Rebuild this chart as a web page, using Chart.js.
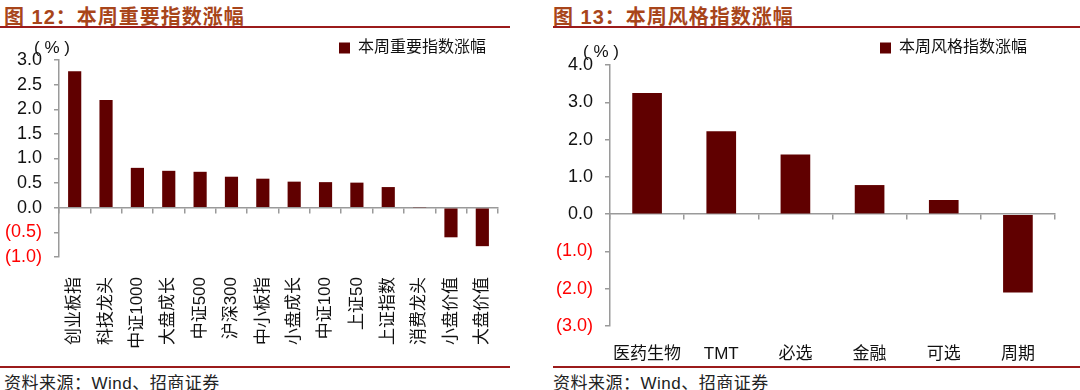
<!DOCTYPE html>
<html>
<head>
<meta charset="utf-8">
<script src="https://cdn.jsdelivr.net/npm/chart.js@4.4.0/dist/chart.umd.min.js"></script>
<style>
  body { margin: 0; width: 1080px; height: 390px; background: #fff; position: relative; overflow: hidden;
         font-family: "Liberation Sans", "Noto Sans CJK SC", sans-serif; }
  .title { position: absolute; top: 1px; font-size: 20px; font-weight: bold; color: #a8451a; white-space: nowrap; letter-spacing: 1px; }
  .rule { position: absolute; height: 2px; background: #9b1b1b; }
  .src { position: absolute; top: 369px; font-size: 17px; color: #222; white-space: nowrap; letter-spacing: 0.5px; }
  .box { position: absolute; top: 30px; width: 540px; height: 335px; }
</style>
</head>
<body>
<div class="title" style="left:4px">图 12：本周重要指数涨幅</div>
<div class="rule" style="left:0; width:510px; top:26px"></div>
<div class="title" style="left:553px">图 13：本周风格指数涨幅</div>
<div class="rule" style="left:553px; width:527px; top:26px"></div>

<div class="box" style="left:0"><canvas id="left"></canvas></div>
<div class="box" style="left:540px"><canvas id="right"></canvas></div>

<div class="rule" style="left:0; width:510px; top:366px"></div>
<div class="rule" style="left:553px; width:527px; top:366px"></div>
<div class="src" style="left:4px">资料来源：Wind、招商证券</div>
<div class="src" style="left:553px">资料来源：Wind、招商证券</div>

<script>
const indexNames = ["创业板指", "科技龙头", "中证1000", "大盘成长", "中证500", "沪深300", "中小板指",
  "小盘成长", "中证100", "上证50", "上证指数", "消费龙头", "小盘价值", "大盘价值"]
const indexChange = [2.77, 2.19, 0.81, 0.75, 0.73, 0.63, 0.59, 0.53, 0.52, 0.51, 0.42, 0.01, -0.60, -0.78]

const styleNames = ["医药生物", "TMT", "必选", "金融", "可选", "周期"]
const styleChange = [3.25, 2.22, 1.60, 0.78, 0.38, -2.10]

const barColor = "#600000"
const axisColor = "#9a9a9a"
const font = "'Liberation Sans', 'Noto Sans CJK SC', sans-serif"

function fmtTick(v) {
  return v < 0 ? "(" + Math.abs(v).toFixed(1) + ")" : v.toFixed(1)
}

// "(%)" unit label above the value axis
const unitLabel = {
  id: "unitLabel",
  afterDraw(chart, args, opts) {
    const { ctx, chartArea } = chart
    ctx.save()
    ctx.font = "17px " + font
    ctx.fillStyle = "#111"
    ctx.textAlign = "center"
    ctx.textBaseline = "middle"
    ctx.fillText("( % )", chartArea.left + opts.dx, chartArea.top + opts.dy)
    ctx.restore()
  }
}

// fixes the legend height, and nudges it sideways, so it sits where the reference has it
const legendHeight = {
  id: "legendHeight",
  beforeInit(chart, args, opts) {
    const fit = chart.legend.fit
    chart.legend.fit = function () {
      fit.bind(chart.legend)()
      this.height = opts.h
    }
  },
  afterLayout(chart, args, opts) {
    chart.legend.right -= opts.shift
  }
}

function makeChart(id, cfg) {
  return new Chart(document.getElementById(id), {
    type: "bar",
    data: {
      labels: cfg.labels,
      datasets: [{
        label: cfg.legend,
        data: cfg.values,
        backgroundColor: barColor,
        borderWidth: 0,
        barPercentage: cfg.barPct,
        categoryPercentage: 1,
        xAxisID: "x"
      }]
    },
    options: {
      responsive: true,
      maintainAspectRatio: false,
      animation: false,
      layout: { padding: { left: 0, right: cfg.padRight, top: 0, bottom: 0 } },
      scales: {
        x: {
          type: "category",
          position: { y: 0 },
          offset: true,
          border: { color: axisColor, width: 1.5 },
          grid: { display: true, drawOnChartArea: false, offset: true, tickLength: 5, color: axisColor, lineWidth: 1.5 },
          ticks: { display: false }
        },
        x2: {
          type: "category",
          position: "bottom",
          offset: true,
          border: { display: false },
          grid: { display: false },
          ticks: {
            color: "#111",
            font: { family: font, size: 17 },
            padding: cfg.xPad,
            minRotation: cfg.rot,
            maxRotation: cfg.rot,
            autoSkip: false
          },
          afterFit(scale) { scale.height = cfg.xHeight }
        },
        y: {
          min: cfg.min,
          max: cfg.max,
          border: { color: axisColor, width: 1.5 },
          grid: { display: true, drawOnChartArea: false, tickLength: 5, color: axisColor, lineWidth: 1.5 },
          ticks: {
            stepSize: cfg.step,
            padding: 12,
            font: { family: font, size: 18 },
            color: ctx => ctx.tick.value < 0 ? "#ff0000" : "#111",
            callback: v => fmtTick(v)
          },
          afterFit(scale) { scale.width = cfg.yWidth }
        }
      },
      plugins: {
        legend: {
          display: true,
          position: "top",
          align: "end",
          labels: {
            boxWidth: 11,
            boxHeight: 11,
            padding: 10,
            color: "#111",
            font: { family: font, size: 16 }
          }
        },
        legendHeight: { h: cfg.legendH, shift: cfg.legendShift },
        unitLabel: { dx: cfg.unitDx, dy: cfg.unitDy },
        tooltip: { enabled: false }
      }
    },
    plugins: [legendHeight, unitLabel]
  })
}

makeChart("left", {
  labels: indexNames,
  values: indexChange,
  legend: "本周重要指数涨幅",
  min: -1, max: 3, step: 0.5,
  barPct: 0.42,
  padRight: 42,
  yWidth: 59,
  legendH: 30,
  legendShift: 2,
  xHeight: 108,
  xPad: 12,
  rot: 90,
  unitDx: -7, unitDy: -12
})

makeChart("right", {
  labels: styleNames,
  values: styleChange,
  legend: "本周风格指数涨幅",
  min: -3, max: 4, step: 1,
  barPct: 0.4,
  padRight: 25,
  yWidth: 70,
  legendH: 35,
  legendShift: 18,
  xHeight: 39,
  xPad: 10,
  rot: 0,
  unitDx: -9, unitDy: -13
})
</script>
</body>
</html>
